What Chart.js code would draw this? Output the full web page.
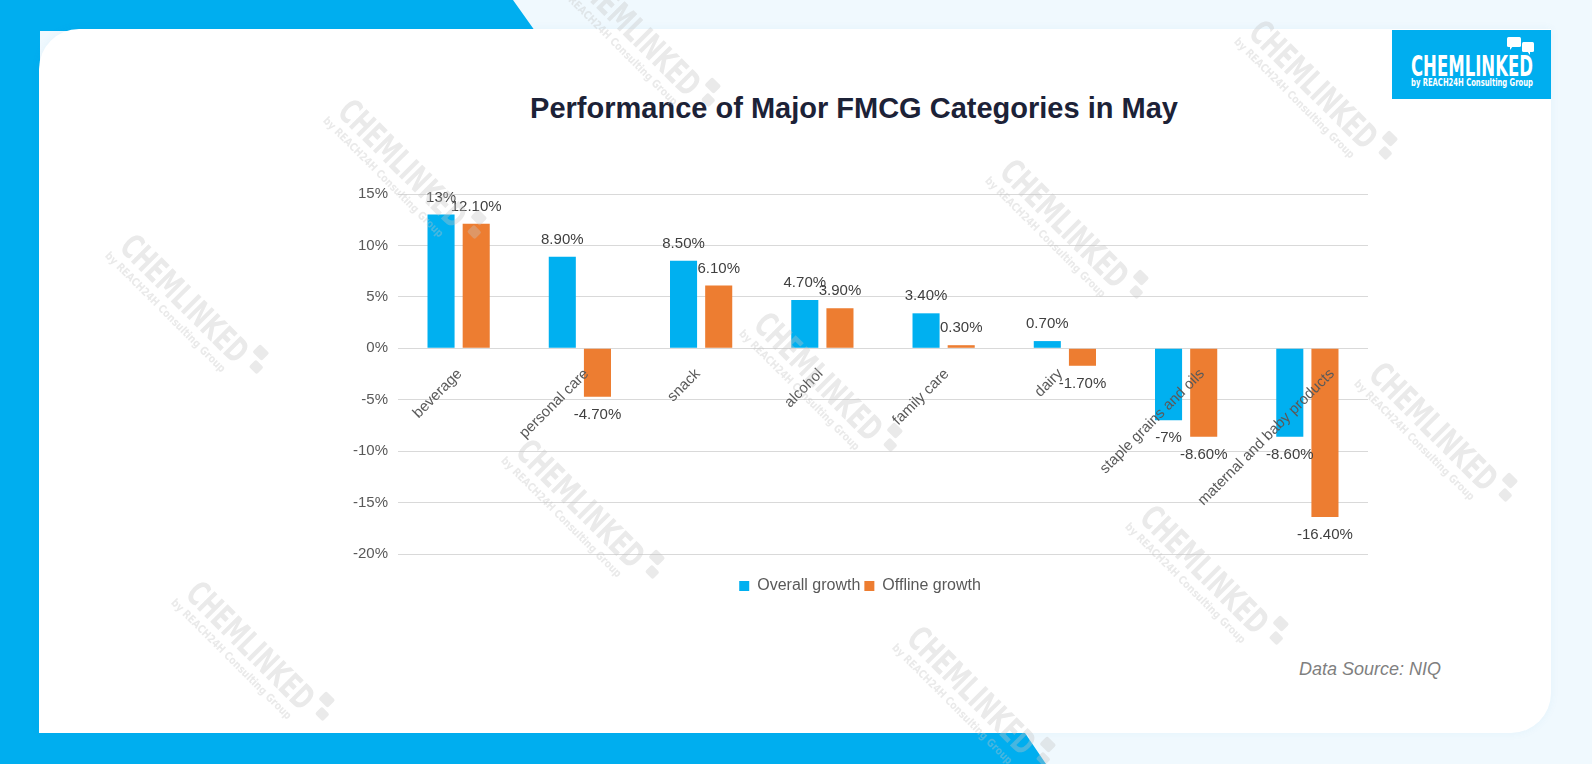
<!DOCTYPE html>
<html>
<head>
<meta charset="utf-8">
<script src="https://cdn.jsdelivr.net/npm/chart.js@4.4.0/dist/chart.umd.min.js"></script>
<style>
  body { margin: 0; width: 1592px; height: 764px; overflow: hidden; position: relative; background: #f0f9fe; font-family: "Liberation Sans", Arial, sans-serif; }
  .abs { position: absolute; }
  #card { left: 39px; top: 29px; width: 1512px; height: 704px; background: #fff; border-radius: 40px 0 40px 0; box-shadow: 0 0 10px rgba(0, 140, 210, 0.06); }
  #title { left: 354px; top: 94px; width: 1000px; text-align: center; font-weight: bold; font-size: 29px; line-height: 29px; color: #1c2237; white-space: nowrap; }
  #source { left: 1299px; top: 660px; font-style: italic; font-size: 18px; line-height: 18px; color: #7f7f7f; white-space: nowrap; }
  #wrap { left: 340px; top: 150px; width: 1044px; height: 460px; }
</style>
</head>
<body>
<svg class="abs" style="left:0;top:0" width="1592" height="764">
  <polygon points="0,0 513,0 535,31 40,31 40,733 1025,733 1046,764 0,764" fill="#00aeef"/>
</svg>
<div id="card" class="abs"></div>
<div id="title" class="abs">Performance of Major FMCG Categories in May</div>
<div id="wrap" class="abs"><canvas id="chart" width="1044" height="460"></canvas></div>
<div id="source" class="abs">Data Source: NIQ</div>

<svg class="abs" style="left:1392px;top:30px" width="159" height="69">
  <rect width="159" height="69" fill="#00aeef"/>
  <rect x="115" y="7" width="14" height="10" rx="1.5" fill="#fff"/>
  <polygon points="118,16 121,16 118,20" fill="#fff"/>
  <rect x="130" y="12" width="12" height="10" rx="1.5" fill="#fff"/>
  <polygon points="135,21 138,21 138,25" fill="#fff"/>
  <text x="19" y="46" font-family="DejaVu Sans Condensed" font-weight="bold" font-size="29" fill="#fff" textLength="122" lengthAdjust="spacingAndGlyphs">CHEMLINKED</text>
  <text x="19" y="56" font-family="DejaVu Sans Condensed" font-weight="bold" font-size="11" fill="#fff" textLength="122" lengthAdjust="spacingAndGlyphs">by REACH24H Consulting Group</text>
</svg>

<svg id="wm" class="abs" style="left:0;top:0;pointer-events:none" width="1592" height="764"></svg>

<script>
const categories = ['beverage', 'personal care', 'snack', 'alcohol', 'family care', 'dairy', 'staple grains and oils', 'maternal and baby products'];
const overallGrowth = [13, 8.9, 8.5, 4.7, 3.4, 0.7, -7, -8.6];
const offlineGrowth = [12.1, -4.7, 6.1, 3.9, 0.3, -1.7, -8.6, -16.4];
const yTicks = [-20, -15, -10, -5, 0, 5, 10, 15];
const seriesNames = ['Overall growth', 'Offline growth'];

// watermark spots
const marks = [[640, 36], [1317, 89], [406, 168], [1068, 228], [188, 303], [822, 381], [1437, 431], [584, 508], [1208, 574], [254, 650], [975, 695]];

const NS = 'http://www.w3.org/2000/svg';
const wm = document.getElementById('wm');
marks.forEach(([cx, cy]) => {
    const g = document.createElementNS(NS, 'g');
    g.setAttribute('transform', `translate(${cx},${cy}) rotate(45)`);
    g.setAttribute('fill', '#c4c4c4');
    g.setAttribute('opacity', '0.36');
    g.innerHTML =
        '<text x="-88" y="11" font-family="DejaVu Sans Condensed" font-weight="bold" font-size="34" textLength="165" lengthAdjust="spacingAndGlyphs">CHEMLINKED</text>' +
        '<text x="-92" y="26" font-family="DejaVu Sans Condensed" font-weight="bold" font-size="11" textLength="165" lengthAdjust="spacingAndGlyphs">by REACH24H Consulting Group</text>' +
        '<rect x="80" y="-22" width="13" height="11" rx="2"/><rect x="88" y="-8" width="11" height="10" rx="2"/>';
    wm.appendChild(g);
});

function fmt(v) {
    return (Number.isInteger(v) ? v : v.toFixed(2)) + '%';
}

// category labels at the zero line and value labels at the bar ends
const labelPlugin = {
    id: 'excelLabels',
    afterDatasetsDraw(chart) {
        const ctx = chart.ctx;
        const xs = chart.scales.x, ys = chart.scales.y;
        const zero = ys.getPixelForValue(0);
        ctx.save();
        ctx.font = '15px "Liberation Sans", Arial, sans-serif';
        ctx.fillStyle = '#595959';
        categories.forEach((c, i) => {
            const w = ctx.measureText(c).width;
            ctx.save();
            ctx.translate(xs.getPixelForValue(i) - 16 + 0.19 * w, zero + 18);
            ctx.rotate(-Math.PI / 4);
            ctx.textAlign = 'right';
            ctx.textBaseline = 'top';
            ctx.fillText(c, 0, 0);
            ctx.restore();
        });
        ctx.fillStyle = '#404040';
        ctx.textAlign = 'center';
        ctx.textBaseline = 'middle';
        chart.data.datasets.forEach((ds, di) => {
            chart.getDatasetMeta(di).data.forEach((bar, i) => {
                const v = ds.data[i];
                const ty = v >= 0 ? bar.y - 17 : bar.y + 18;
                ctx.fillText(fmt(v), bar.x, ty);
            });
        });
        ctx.restore();
    }
};

Chart.defaults.font.family = '"Liberation Sans", Arial, sans-serif';

new Chart(document.getElementById('chart'), {
    type: 'bar',
    data: {
        labels: categories,
        datasets: [
            { label: seriesNames[0], data: overallGrowth, backgroundColor: '#00b0f0' },
            { label: seriesNames[1], data: offlineGrowth, backgroundColor: '#ed7d31' }
        ]
    },
    options: {
        responsive: false,
        animation: false,
        devicePixelRatio: 1,
        layout: { padding: { top: 44, left: 12, right: 16, bottom: 6 } },
        datasets: { bar: { categoryPercentage: 0.58, barPercentage: 0.77 } },
        scales: {
            x: {
                ticks: { display: false },
                grid: { display: false },
                border: { display: false },
                afterFit: s => { s.height = 20; }
            },
            y: {
                min: yTicks[0],
                max: yTicks[yTicks.length - 1],
                afterBuildTicks: s => { s.ticks = yTicks.map(v => ({ value: v })); },
                afterFit: s => { s.width = 46; },
                ticks: { padding: 10, color: '#595959', font: { size: 15 }, callback: v => v + '%' },
                grid: { color: '#d9d9d9', drawTicks: false },
                border: { display: false }
            }
        },
        plugins: {
            tooltip: { enabled: false },
            legend: {
                position: 'bottom',
                labels: { boxWidth: 10, boxHeight: 10, padding: 4, color: '#595959', font: { size: 16 } }
            }
        }
    },
    plugins: [labelPlugin]
});
</script>
</body>
</html>
